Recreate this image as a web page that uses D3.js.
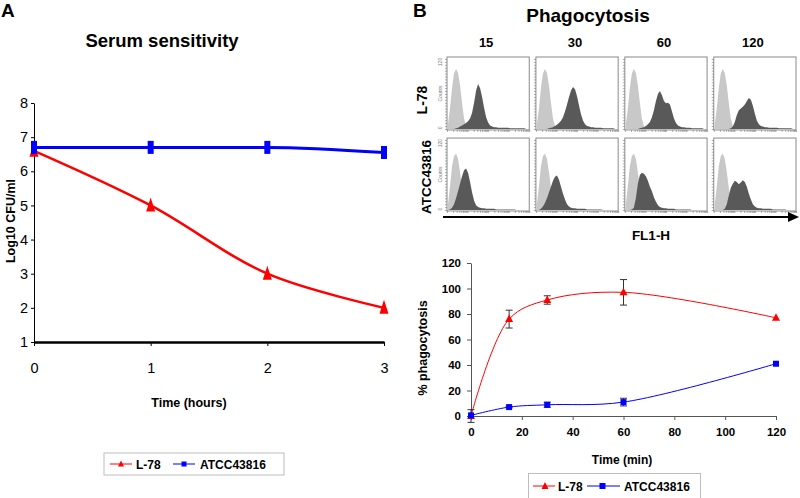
<!DOCTYPE html>
<html><head><meta charset="utf-8">
<script src="https://cdn.jsdelivr.net/npm/d3@7"></script>
<style>
body{margin:0;background:#fff}
svg{display:block}
text{font-family:"Liberation Sans",Arial,Helvetica,sans-serif}
</style></head>
<body><svg id="c" width="800" height="498"></svg>
<script>
// ---------- DATA ----------
// Panel A: serum sensitivity
const serumTime = [0, 1, 2, 3];
const serumL78 = [6.6, 5.0, 3.0, 2.0];
const serumATCC = [6.7, 6.7, 6.7, 6.55];
const serumYTicks = [1, 2, 3, 4, 5, 6, 7, 8];
const serumXTicks = [0, 1, 2, 3];

// Panel B: phagocytosis time course
const phagTime = [0, 15, 30, 60, 120];
const phagL78 = [0, 76, 91, 97, 77];
const phagL78Err = [5, 7, 3.3, 10, 0];
const phagATCC = [0.5, 7, 8.8, 10.9, 41];
const phagATCCErr = [0, 0.5, 2, 3, 0];
const phagYTicks = [0, 20, 40, 60, 80, 100, 120];
const phagXTicks = [0, 20, 40, 60, 80, 100, 120];

// Panel B: flow cytometry histograms (40 bins, counts 0-120)
const histColumns = ["15", "30", "60", "120"];
const histRows = ["L-78", "ATCC43816"];
const controlL78 = [8,35,70,95,103,96,75,45,18,5,1,0,0,0,0,0,0,0,0,0,0,0,0,0,0,0,0,0,0,0,0,0,0,0,0,0,0,0,0,0];
const controlATCC = [10,40,75,92,97,88,65,38,15,5,1,0,0,0,0,0,0,0,0,0,0,0,0,0,0,0,0,0,0,0,0,0,0,0,0,0,0,0,0,0];
const histL78_15 = [0,0,0,0,1,2,4,6,8,10,13,18,28,45,66,77,70,55,36,20,11,6,4,3,3,2,2,2,2,2,2,1,1,1,1,1,1,1,1,0];
const histL78_30 = [0,0,0,0,0,0,1,2,3,5,7,10,14,20,30,42,55,66,72,68,56,40,25,14,8,5,4,3,3,2,2,2,2,1,1,1,1,1,1,0];
const histL78_60 = [0,0,0,0,0,0,0,1,2,3,5,8,12,20,32,48,60,65,58,48,44,45,42,30,18,10,6,4,3,3,2,2,2,1,1,1,1,1,1,0];
const histL78_120 = [0,0,0,0,0,0,0,0,1,4,12,24,32,35,38,42,48,53,50,40,26,14,8,5,4,3,3,2,2,2,2,2,1,1,1,1,1,1,1,0];
const histATCC_15 = [0,1,4,10,20,32,45,58,68,71,64,48,30,16,8,5,4,3,3,2,2,2,2,2,1,1,1,1,1,1,1,1,1,1,0,0,0,0,0,0];
const histATCC_30 = [0,0,2,6,12,20,30,40,50,57,59,52,40,28,18,10,6,4,3,3,2,2,2,2,2,1,1,1,1,1,1,1,1,0,0,0,0,0,0,0];
const histATCC_60 = [0,0,0,1,4,20,45,60,64,62,58,50,40,32,22,14,8,5,4,3,3,2,2,2,2,1,1,1,1,1,1,1,1,0,0,0,0,0,0,0];
const histATCC_120 = [0,0,0,0,0,2,10,25,38,45,50,48,44,47,51,48,40,28,18,10,6,4,3,3,2,2,2,2,2,1,1,1,1,1,1,1,0,0,0,0];

const histData = [
  {control: controlL78, samples: [histL78_15, histL78_30, histL78_60, histL78_120]},
  {control: controlATCC, samples: [histATCC_15, histATCC_30, histATCC_60, histATCC_120]}
];

const RED = "#ff0000", BLUE = "#0000ff";
const svg = d3.select("#c");

function styleAxis(g, size, weight, color) {
  g.attr("font-family", '"Liberation Sans",Arial,sans-serif')
   .attr("font-size", size).attr("font-weight", weight);
  g.selectAll("text").attr("fill", "#000");
  g.selectAll("line").attr("stroke", color);
  g.select(".domain").attr("stroke", color);
}

// ================= PANEL A =================
svg.append("text").attr("x", 1).attr("y", 17).attr("font-size", 19).attr("font-weight", "bold").text("A");
svg.append("text").attr("x", 162).attr("y", 47).attr("text-anchor", "middle")
  .attr("font-size", 18.5).attr("font-weight", "bold").text("Serum sensitivity");

const xA = d3.scaleLinear().domain([0, 3]).range([34, 384]);
const yA = d3.scaleLinear().domain([1, 8]).range([342, 103]);

const gyA = svg.append("g").attr("transform", "translate(34,0)")
  .call(d3.axisLeft(yA).tickValues(serumYTicks).tickSize(3).tickSizeOuter(0).tickFormat(d3.format("d")));
styleAxis(gyA, 14.5, "normal", "#000");

const gxA = svg.append("g").attr("transform", "translate(0,342)")
  .call(d3.axisBottom(xA).tickValues(serumXTicks).tickSize(4).tickSizeOuter(0).tickPadding(17).tickFormat(d3.format("d")));
styleAxis(gxA, 14.5, "normal", "#000");
gxA.select(".domain").attr("stroke-width", 2.5);

svg.append("text").attr("x", 189).attr("y", 407).attr("text-anchor", "middle")
  .attr("font-size", 12.5).attr("font-weight", "bold").text("Time (hours)");
svg.append("text").attr("transform", "translate(15,221) rotate(-90)").attr("text-anchor", "middle")
  .attr("font-size", 12.5).attr("font-weight", "bold").text("Log10 CFU/ml");

const lineA = d3.line().x((d, i) => xA(serumTime[i])).y(d => yA(d)).curve(d3.curveCatmullRom.alpha(0.5));
const lineAflat = d3.line().x((d, i) => xA(serumTime[i])).y(d => yA(d)).curve(d3.curveMonotoneX);
svg.append("path").attr("d", lineA(serumL78)).attr("fill", "none").attr("stroke", RED).attr("stroke-width", 2.5);
svg.append("path").attr("d", lineAflat(serumATCC)).attr("fill", "none").attr("stroke", BLUE).attr("stroke-width", 3);

svg.append("g").selectAll("path").data(serumL78).join("path")
  .attr("transform", (d, i) => `translate(${xA(serumTime[i])},${yA(d)})`)
  .attr("d", "M0,-8L4.5,6L-4.5,6Z").attr("fill", RED);
svg.append("g").selectAll("rect").data(serumATCC).join("rect")
  .attr("x", (d, i) => xA(serumTime[i]) - 3).attr("y", d => yA(d) - 6.5)
  .attr("width", 6).attr("height", 13).attr("fill", BLUE);

// Legend A
const legA = svg.append("g");
legA.append("rect").attr("x", 104).attr("y", 453).attr("width", 180).attr("height", 22)
  .attr("fill", "none").attr("stroke", "#bdbdbd");
legA.append("line").attr("x1", 110).attr("x2", 132).attr("y1", 464).attr("y2", 464).attr("stroke", RED);
legA.append("path").attr("transform", "translate(121,464)").attr("d", "M0,-3.5L3,2.5L-3,2.5Z").attr("fill", RED);
legA.append("text").attr("x", 136).attr("y", 468.5).attr("font-size", 12).attr("font-weight", "bold").text("L-78");
legA.append("line").attr("x1", 173).attr("x2", 195).attr("y1", 464).attr("y2", 464).attr("stroke", BLUE);
legA.append("rect").attr("x", 181.5).attr("y", 461.5).attr("width", 5).attr("height", 5).attr("fill", BLUE);
legA.append("text").attr("x", 200).attr("y", 468.5).attr("font-size", 12).attr("font-weight", "bold").text("ATCC43816");

// ================= PANEL B =================
svg.append("text").attr("x", 413).attr("y", 17).attr("font-size", 19).attr("font-weight", "bold").text("B");
svg.append("text").attr("x", 588).attr("y", 22).attr("text-anchor", "middle")
  .attr("font-size", 19).attr("font-weight", "bold").text("Phagocytosis");

const colBand = d3.scaleBand().domain(histColumns).range([447, 796]).paddingInner(0.075);
const rowBand = d3.scaleBand().domain(histRows).range([57, 211]).paddingInner(0.1);

svg.append("g").selectAll("text").data(histColumns).join("text")
  .attr("x", d => colBand(d) + colBand.bandwidth() / 2 - 2).attr("y", 47)
  .attr("text-anchor", "middle").attr("font-size", 13).attr("font-weight", "bold").text(d => d);

const binScale = d3.scaleLinear().domain([0, 40]);
histRows.forEach((rowName, r) => {
  const top = rowBand(rowName), h = rowBand.bandwidth();
  const yH = d3.scaleLinear().domain([0, 120]).range([top + h - 1, top + 2]);
  histColumns.forEach((colName, c) => {
    const left = colBand(colName), w = colBand.bandwidth();
    const xb = binScale.copy().range([left + 1, left + w - 1]);
    const area = d3.area().x((d, i) => xb(i)).y0(yH(0)).y1(d => yH(d)).curve(d3.curveLinear);
    const ctrl = histData[r].control.concat([0]);
    const samp = histData[r].samples[c].concat([0]);
    const g = svg.append("g");
    g.append("path").attr("d", area(ctrl)).attr("fill", "#c8c8c8");
    g.append("path").attr("d", area(samp)).attr("fill", "#595959");
    g.append("rect").attr("x", left).attr("y", top).attr("width", w).attr("height", h)
      .attr("fill", "none").attr("stroke", "#8a8a8a").attr("stroke-width", 1);
    // tiny axes ticks
    const ga = g.append("g").attr("transform", `translate(${left},0)`)
      .call(d3.axisLeft(yH).ticks(24).tickSize(2).tickFormat(""));
    ga.select(".domain").remove();
    ga.selectAll("line").attr("stroke", "#777").attr("stroke-width", 0.6);
    const xl = d3.scaleLog().domain([1, 10000]).range([left, left + w]);
    const gb = g.append("g").attr("transform", `translate(0,${top + h})`)
      .call(d3.axisBottom(xl).tickSize(2).tickFormat(""));
    gb.select(".domain").remove();
    gb.selectAll("line").attr("stroke", "#777").attr("stroke-width", 0.6);
    if (c === 0) {
      const lx = left - 5;
      g.append("text").attr("transform", `translate(${lx},${top + 5}) rotate(-90)`).attr("text-anchor", "middle")
        .attr("font-size", 5).attr("fill", "#777").text("120");
      g.append("text").attr("transform", `translate(${lx},${top + h / 2}) rotate(-90)`).attr("text-anchor", "middle")
        .attr("font-size", 5).attr("fill", "#777").text("Counts");
      g.append("text").attr("transform", `translate(${lx},${top + h - 2}) rotate(-90)`).attr("text-anchor", "middle")
        .attr("font-size", 5).attr("fill", "#777").text("0");
    }
  });
});

svg.append("text").attr("transform", "translate(427,100) rotate(-90)").attr("text-anchor", "middle")
  .attr("font-size", 14).attr("font-weight", "bold").text("L-78");
svg.append("text").attr("transform", "translate(431,177) rotate(-90)").attr("text-anchor", "middle")
  .attr("font-size", 13.5).attr("font-weight", "bold").text("ATCC43816");

// FL1-H arrow
svg.append("line").attr("x1", 443).attr("x2", 790).attr("y1", 217).attr("y2", 217)
  .attr("stroke", "#000").attr("stroke-width", 2);
svg.append("path").attr("d", "M799,217L788,212L788,222Z").attr("fill", "#000");
svg.append("text").attr("x", 651).attr("y", 240).attr("text-anchor", "middle")
  .attr("font-size", 13.5).attr("font-weight", "bold").text("FL1-H");

// Line chart
const xB = d3.scaleLinear().domain([0, 120]).range([471, 776]);
const yB = d3.scaleLinear().domain([0, 120]).range([416, 263]);

const gyB = svg.append("g").attr("transform", "translate(471,0)")
  .call(d3.axisLeft(yB).tickValues(phagYTicks).tickSize(4).tickSizeOuter(0).tickPadding(6));
styleAxis(gyB, 11.5, "bold", "#555");
const gxB = svg.append("g").attr("transform", "translate(0,416)")
  .call(d3.axisBottom(xB).tickValues(phagXTicks).tickSize(4).tickSizeOuter(0).tickPadding(8));
styleAxis(gxB, 11.5, "bold", "#555");

svg.append("text").attr("x", 622).attr("y", 464).attr("text-anchor", "middle")
  .attr("font-size", 12).attr("font-weight", "bold").text("Time (min)");
svg.append("text").attr("transform", "translate(427,348) rotate(-90)").attr("text-anchor", "middle")
  .attr("font-size", 12.5).attr("font-weight", "bold").text("% phagocytosis");

const lineB = d3.line().x((d, i) => xB(phagTime[i])).y(d => yB(d)).curve(d3.curveCatmullRom.alpha(0.5));
svg.append("path").attr("d", lineB(phagL78)).attr("fill", "none").attr("stroke", RED).attr("stroke-width", 1);
svg.append("path").attr("d", lineB(phagATCC)).attr("fill", "none").attr("stroke", BLUE).attr("stroke-width", 1);

function errBars(vals, errs) {
  const g = svg.append("g").attr("stroke", "#333").attr("stroke-width", 1);
  vals.forEach((v, i) => {
    if (!errs[i]) return;
    const x = xB(phagTime[i]), y1 = yB(v + errs[i]), y2 = yB(v - errs[i]);
    g.append("line").attr("x1", x).attr("x2", x).attr("y1", y1).attr("y2", y2);
    g.append("line").attr("x1", x - 3.5).attr("x2", x + 3.5).attr("y1", y1).attr("y2", y1);
    g.append("line").attr("x1", x - 3.5).attr("x2", x + 3.5).attr("y1", y2).attr("y2", y2);
  });
}
errBars(phagL78, phagL78Err);
errBars(phagATCC, phagATCCErr);

svg.append("g").selectAll("path").data(phagL78).join("path")
  .attr("transform", (d, i) => `translate(${xB(phagTime[i])},${yB(d)})`)
  .attr("d", "M0,-4.5L4,3L-4,3Z").attr("fill", RED);
svg.append("g").selectAll("rect").data(phagATCC).join("rect")
  .attr("x", (d, i) => xB(phagTime[i]) - 3).attr("y", d => yB(d) - 3)
  .attr("width", 6).attr("height", 6).attr("fill", BLUE);

// Legend B
const legB = svg.append("g");
legB.append("rect").attr("x", 528.5).attr("y", 473.5).attr("width", 172).attr("height", 30)
  .attr("fill", "none").attr("stroke", "#bdbdbd");
legB.append("line").attr("x1", 533).attr("x2", 555).attr("y1", 486).attr("y2", 486).attr("stroke", RED);
legB.append("path").attr("transform", "translate(545,486)").attr("d", "M0,-4L3.5,3L-3.5,3Z").attr("fill", RED);
legB.append("text").attr("x", 558).attr("y", 490.5).attr("font-size", 12).attr("font-weight", "bold").text("L-78");
legB.append("line").attr("x1", 587).attr("x2", 620).attr("y1", 486).attr("y2", 486).attr("stroke", BLUE);
legB.append("rect").attr("x", 599.5).attr("y", 483).attr("width", 6).attr("height", 6).attr("fill", BLUE);
legB.append("text").attr("x", 624).attr("y", 490.5).attr("font-size", 12).attr("font-weight", "bold").text("ATCC43816");
</script>
</body></html>
